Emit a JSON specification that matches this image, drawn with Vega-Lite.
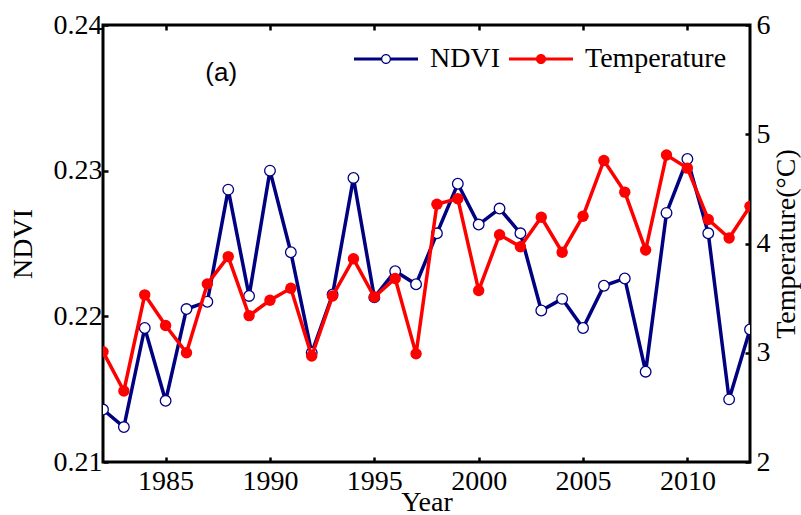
{
  "$schema": "https://vega.github.io/schema/vega-lite/v6.json",
  "width": 647,
  "height": 437,
  "autosize": {"type": "none"},
  "padding": {"left": 103, "top": 25, "right": 51, "bottom": 53},
  "background": "white",
  "config": {
    "view": {"stroke": "black", "strokeWidth": 3},
    "font": "Liberation Serif",
    "axis": {
      "grid": false,
      "domain": false,
      "tickColor": "black",
      "tickWidth": 2.5,
      "tickSize": -5,
      "labelFont": "Liberation Serif",
      "labelFontSize": 28,
      "labelColor": "black",
      "titleFont": "Liberation Serif",
      "titleFontSize": 28,
      "titleFontWeight": "normal",
      "titleColor": "black"
    },
    "legend": {
      "orient": "none",
      "legendX": 251,
      "legendY": 2,
      "direction": "horizontal",
      "padding": 0,
      "offset": 0,
      "labelFont": "Liberation Serif",
      "labelFontSize": 28,
      "labelColor": "black",
      "labelOffset": 12,
      "columnPadding": 9,
      "symbolOpacity": 1,
      "symbolStrokeWidth": 0,
      "symbolSize": 4096,
      "title": null
    }
  },
  "data": {
    "values": [
      {"year": 1982, "ndvi": 0.2136, "temp": 3.01},
      {"year": 1983, "ndvi": 0.2124, "temp": 2.65},
      {"year": 1984, "ndvi": 0.2192, "temp": 3.53},
      {"year": 1985, "ndvi": 0.2142, "temp": 3.25},
      {"year": 1986, "ndvi": 0.2205, "temp": 3.00},
      {"year": 1987, "ndvi": 0.2210, "temp": 3.63},
      {"year": 1988, "ndvi": 0.2287, "temp": 3.88},
      {"year": 1989, "ndvi": 0.2214, "temp": 3.34},
      {"year": 1990, "ndvi": 0.2300, "temp": 3.48},
      {"year": 1991, "ndvi": 0.2244, "temp": 3.59},
      {"year": 1992, "ndvi": 0.2175, "temp": 2.97},
      {"year": 1993, "ndvi": 0.2215, "temp": 3.52},
      {"year": 1994, "ndvi": 0.2295, "temp": 3.86},
      {"year": 1995, "ndvi": 0.2213, "temp": 3.51},
      {"year": 1996, "ndvi": 0.2231, "temp": 3.68},
      {"year": 1997, "ndvi": 0.2222, "temp": 2.99},
      {"year": 1998, "ndvi": 0.2257, "temp": 4.36},
      {"year": 1999, "ndvi": 0.2291, "temp": 4.41},
      {"year": 2000, "ndvi": 0.2263, "temp": 3.57},
      {"year": 2001, "ndvi": 0.2274, "temp": 4.08},
      {"year": 2002, "ndvi": 0.2257, "temp": 3.97},
      {"year": 2003, "ndvi": 0.2204, "temp": 4.24},
      {"year": 2004, "ndvi": 0.2212, "temp": 3.92},
      {"year": 2005, "ndvi": 0.2192, "temp": 4.25},
      {"year": 2006, "ndvi": 0.2221, "temp": 4.76},
      {"year": 2007, "ndvi": 0.2226, "temp": 4.47},
      {"year": 2008, "ndvi": 0.2162, "temp": 3.94},
      {"year": 2009, "ndvi": 0.2271, "temp": 4.81},
      {"year": 2010, "ndvi": 0.2308, "temp": 4.69},
      {"year": 2011, "ndvi": 0.2257, "temp": 4.22},
      {"year": 2012, "ndvi": 0.2143, "temp": 4.05},
      {"year": 2013, "ndvi": 0.2191, "temp": 4.34}
    ]
  },
  "layer": [
    {
      "layer": [
        {
          "mark": {"type": "line", "color": "#000080", "strokeWidth": 3.5, "clip": true},
          "encoding": {
            "x": {"field": "year", "type": "quantitative", "scale": {"domain": [1982, 2013], "nice": false, "zero": false},
              "axis": {"orient": "bottom", "values": [1985, 1990, 1995, 2000, 2005, 2010], "format": "d", "title": "Year", "labelPadding": 10, "titlePadding": -7}},
            "y": {"field": "ndvi", "type": "quantitative", "scale": {"domain": [0.21, 0.24], "nice": false, "zero": false},
              "axis": {"orient": "left", "values": [0.21, 0.22, 0.23, 0.24], "format": ".2f", "title": "NDVI", "labelPadding": 6, "titlePadding": 16}}
          }
        },
        {
          "mark": {"type": "point", "shape": "circle", "filled": true, "fill": "white", "stroke": "#000080", "strokeWidth": 1.3, "size": 113, "opacity": 1, "clip": true},
          "encoding": {
            "x": {"field": "year", "type": "quantitative"},
            "y": {"field": "ndvi", "type": "quantitative"}
          }
        },
        {
          "data": {"values": [{"label": "(a)"}]},
          "mark": {"type": "text", "font": "Liberation Sans", "fontSize": 26, "align": "left", "baseline": "middle", "color": "black"},
          "encoding": {
            "x": {"datum": 1986.9, "type": "quantitative"},
            "y": {"datum": 0.2367, "type": "quantitative"},
            "text": {"field": "label"}
          }
        },
        {
          "data": {"values": [{"series": "NDVI"}, {"series": "Temperature"}]},
          "mark": {"type": "point", "filled": true, "opacity": 0, "size": 4096},
          "encoding": {
            "shape": {"field": "series", "type": "nominal", "scale": {"domain": ["NDVI", "Temperature"], "range": [
              "M-1,-0.047 L-0.15,-0.047 L-0.15,0.047 L-1,0.047 Z M0.15,-0.047 L1,-0.047 L1,0.047 L0.15,0.047 Z M-0.156,0 A0.156,0.156 0 1,1 0.156,0 A0.156,0.156 0 1,1 -0.156,0 Z M-0.118,0 A0.118,0.118 0 1,0 0.118,0 A0.118,0.118 0 1,0 -0.118,0 Z",
              "M-1,-0.047 L1,-0.047 L1,0.047 L-1,0.047 Z M-0.16,0 A0.16,0.16 0 1,1 0.16,0 A0.16,0.16 0 1,1 -0.16,0 Z"
            ]}, "legend": {"title": null}},
            "color": {"field": "series", "type": "nominal", "scale": {"domain": ["NDVI", "Temperature"], "range": ["#000080", "#FF0000"]}, "legend": {"title": null}}
          }
        }
      ]
    },
    {
      "layer": [
        {
          "mark": {"type": "line", "color": "#FF0000", "strokeWidth": 3.5, "clip": true},
          "encoding": {
            "x": {"field": "year", "type": "quantitative",
              "axis": {"orient": "top", "values": [1985, 1990, 1995, 2000, 2005, 2010], "labels": false, "title": null}},
            "y": {"field": "temp", "type": "quantitative", "scale": {"domain": [2, 6], "nice": false, "zero": false},
              "axis": {"orient": "right", "values": [2, 3, 4, 5, 6], "format": "d", "title": "Temperature(°C)", "titleAngle": 270, "titleBaseline": "top", "labelPadding": 11, "titlePadding": 2}}
          }
        },
        {
          "mark": {"type": "circle", "color": "#FF0000", "size": 130, "opacity": 1, "clip": true},
          "encoding": {
            "x": {"field": "year", "type": "quantitative"},
            "y": {"field": "temp", "type": "quantitative"}
          }
        }
      ]
    }
  ],
  "resolve": {"scale": {"y": "independent"}, "axis": {"x": "independent"}}
}
